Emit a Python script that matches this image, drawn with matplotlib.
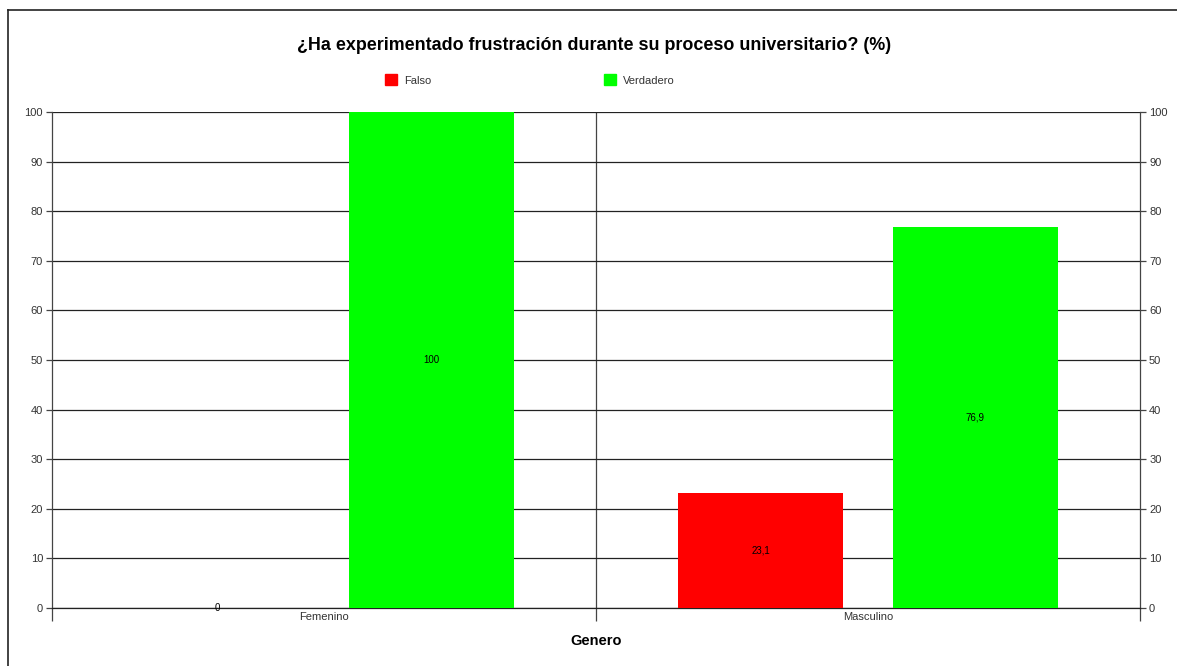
import matplotlib.pyplot as plt
from matplotlib.lines import Line2D
from matplotlib.patches import Patch

plt.rcParams['font.family'] = ['Liberation Sans', 'DejaVu Sans']

categories = ["Femenino", "Masculino"]
falso = [0, 23.1]
verdadero = [100, 76.9]
value_labels_falso = ["0", "23,1"]
value_labels_verdadero = ["100", "76,9"]

fig = plt.figure(figsize=(11.77, 6.66), dpi=100)
ax = fig.add_axes([0.0442, 0.0871, 0.9244, 0.7447])

# border lines of the chart frame (left and top only are visible)
fig.add_artist(Line2D([0.0068, 0.0068], [0, 0.985], color="#222222", lw=1.2, transform=fig.transFigure))
fig.add_artist(Line2D([0.0068, 1.0], [0.985, 0.985], color="#222222", lw=1.2, transform=fig.transFigure))

x = list(range(len(categories)))
w = 0.303
off = 0.197
xf = [i - off for i in x]
xv = [i + off for i in x]
ax.bar(xf, falso, width=w, color="#FF0000", zorder=3, label="Falso")
ax.bar(xv, verdadero, width=w, color="#00FF00", zorder=3, label="Verdadero")

for xi, v, t in zip(xf, falso, value_labels_falso):
    ax.text(xi, v / 2, t, ha="center", va="center", fontsize=7, zorder=4)
for xi, v, t in zip(xv, verdadero, value_labels_verdadero):
    ax.text(xi, v / 2, t, ha="center", va="center", fontsize=7, zorder=4)

ax.set_xlim(-0.5, 1.5)
ax.set_ylim(0, 100)
ax.set_yticks(range(0, 101, 10))
ax.yaxis.grid(True, color="#222222", lw=0.9, zorder=1)
ax.axvline(0.5, color="#444444", lw=0.9, zorder=1)

# boundary ticks between categories, labels in the middle
ax.set_xticks([-0.5, 0.5, 1.5])
ax.set_xticklabels([])
ax.set_xticks(x, minor=True)
ax.set_xticklabels(categories, minor=True, fontsize=8, color="#333333")
ax.tick_params(axis="x", which="major", length=9.5, width=0.9, color="#444444")
ax.tick_params(axis="x", which="minor", length=0, pad=3)
ax.tick_params(axis="y", length=4, width=0.9, color="#444444", labelsize=8,
               labelcolor="#333333", right=True, labelright=True, pad=2.5)

for s in ["left", "right", "bottom"]:
    ax.spines[s].set_color("#444444")
    ax.spines[s].set_linewidth(0.9)
ax.spines["bottom"].set_color("#222222")
ax.spines["top"].set_visible(False)

ax.set_xlabel("Genero", fontsize=10.5, fontweight="bold", labelpad=6)

fig.suptitle("¿Ha experimentado frustración durante su proceso universitario? (%)",
             fontsize=12.9, fontweight="bold", x=0.505, y=0.944)

handles = [Patch(color="#FF0000", label="Falso"), Patch(color="#00FF00", label="Verdadero")]
fig.legend(handles=handles, loc="center", bbox_to_anchor=(0.45, 0.88), ncol=2,
           frameon=False, fontsize=8, handlelength=1.15, handleheight=1.15,
           handletextpad=0.6, columnspacing=15.5, labelcolor="#333333")

fig.savefig("out.png", dpi=100)
